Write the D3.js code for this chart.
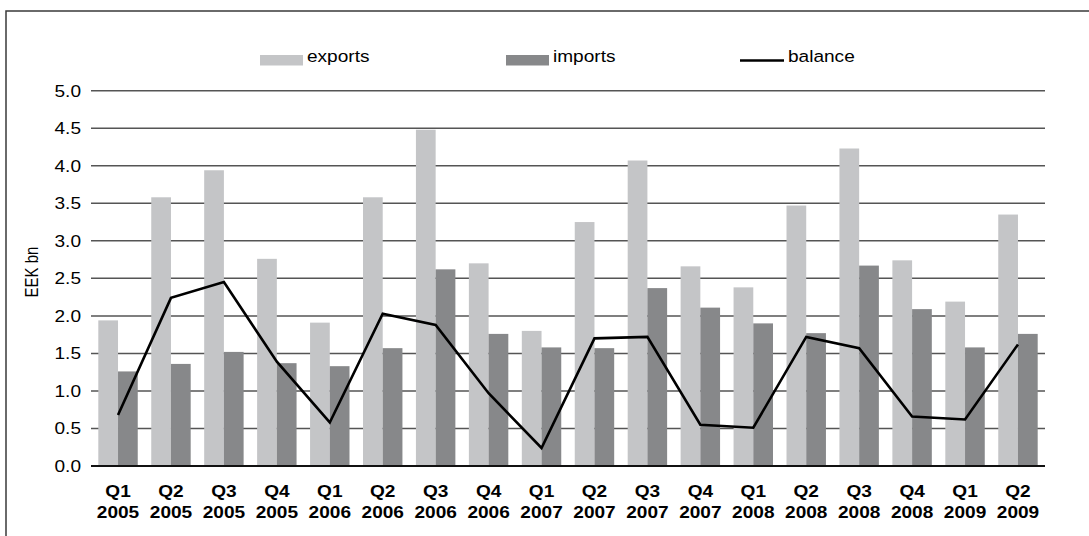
<!DOCTYPE html>
<html>
<head>
<meta charset="utf-8">
<script src="https://cdn.jsdelivr.net/npm/d3@7"></script>
<style>
  html, body { margin: 0; padding: 0; background: #fff; }
  svg { display: block; }
  text { font-family: "Liberation Sans", Arial, Helvetica, sans-serif; fill: #000; }
</style>
</head>
<body>
<svg id="chart" width="1089" height="536"></svg>
<script>
// quarters shown on the x axis (two lines each)
var quarters = ['Q1','Q2','Q3','Q4','Q1','Q2','Q3','Q4','Q1','Q2','Q3','Q4','Q1','Q2','Q3','Q4','Q1','Q2'];
var years = ['2005','2005','2005','2005','2006','2006','2006','2006','2007','2007','2007','2007','2008','2008','2008','2008','2009','2009'];

// EEK bn
var exportsData = [1.94, 3.58, 3.94, 2.76, 1.91, 3.58, 4.48, 2.70, 1.80, 3.25, 4.07, 2.66, 2.38, 3.47, 4.23, 2.74, 2.19, 3.35];
var importsData = [1.26, 1.36, 1.52, 1.37, 1.33, 1.57, 2.62, 1.76, 1.58, 1.57, 2.37, 2.11, 1.90, 1.77, 2.67, 2.09, 1.58, 1.76];
var balanceData = [0.68, 2.24, 2.45, 1.39, 0.58, 2.03, 1.88, 0.97, 0.24, 1.70, 1.72, 0.55, 0.51, 1.72, 1.57, 0.66, 0.62, 1.62];

var yTicks = [0, 0.5, 1, 1.5, 2, 2.5, 3, 3.5, 4, 4.5, 5];
var seriesNames = ['exports', 'imports'];

var colExp = '#c4c5c7', colImp = '#87888a';
var sx = 1.17; // text is a bit wide in the original

var svg = d3.select('#chart');
var categories = quarters.map(function(q, i){ return q + ' ' + years[i]; });

var left = 91, right = 1045;

var x = d3.scaleBand()
	.domain(categories)
	.range([left, right])
	.paddingInner(0.255)
	.paddingOuter(0.138);

var xs = d3.scaleBand()
	.domain(seriesNames)
	.range([0, x.bandwidth()]);

var y = d3.scaleLinear()
	.domain([0, 5])
	.range([466, 90.7]);

// frame (runs off the right and bottom edge)
svg.append('rect')
	.attr('x', 6).attr('y', 11)
	.attr('width', 1200).attr('height', 700)
	.attr('fill', 'none')
	.attr('stroke', '#3a3a3a')
	.attr('stroke-width', 1.5);

// gridlines
svg.append('g')
	.selectAll('line')
	.data(yTicks.slice(1))
	.enter()
	.append('line')
	.attr('x1', left).attr('x2', right)
	.attr('y1', function(d){ return y(d); })
	.attr('y2', function(d){ return y(d); })
	.attr('stroke', '#555')
	.attr('stroke-width', 1.5);

// bars
var groups = svg.append('g')
	.selectAll('g')
	.data(categories)
	.enter()
	.append('g')
	.attr('transform', function(d){ return 'translate(' + x(d) + ',0)'; });

groups.append('rect')
	.attr('x', xs('exports'))
	.attr('width', xs.bandwidth())
	.attr('y', function(d, i){ return y(exportsData[i]); })
	.attr('height', function(d, i){ return y(0) - y(exportsData[i]); })
	.attr('fill', colExp);

groups.append('rect')
	.attr('x', xs('imports'))
	.attr('width', xs.bandwidth())
	.attr('y', function(d, i){ return y(importsData[i]); })
	.attr('height', function(d, i){ return y(0) - y(importsData[i]); })
	.attr('fill', colImp);

// baseline
svg.append('line')
	.attr('x1', left).attr('x2', right)
	.attr('y1', y(0)).attr('y2', y(0))
	.attr('stroke', '#111')
	.attr('stroke-width', 1.8);

// balance line
var line = d3.line()
	.x(function(d, i){ return x(categories[i]) + x.bandwidth() / 2; })
	.y(function(d){ return y(d); });

svg.append('path')
	.datum(balanceData)
	.attr('d', line)
	.attr('fill', 'none')
	.attr('stroke', '#000')
	.attr('stroke-width', 2.6)
	.attr('stroke-linejoin', 'miter');

// y tick labels
svg.append('g')
	.selectAll('text')
	.data(yTicks)
	.enter()
	.append('text')
	.attr('transform', function(d){ return 'translate(81,' + (y(d) + 5.8) + ') scale(' + sx + ',1)'; })
	.attr('text-anchor', 'end')
	.style('font-size', '16.3px')
	.text(function(d){ return d3.format('.1f')(d); });

// y title
svg.append('text')
	.attr('transform', 'translate(38,272) scale(' + sx + ',1) rotate(-90)')
	.attr('text-anchor', 'middle')
	.style('font-size', '15px')
	.text('EEK bn');

// x labels
var xl = svg.append('g')
	.selectAll('g')
	.data(categories)
	.enter()
	.append('g')
	.attr('transform', function(d){ return 'translate(' + (x(d) + x.bandwidth() / 2) + ',0)'; });

xl.append('text')
	.attr('transform', 'translate(0,496.5) scale(' + sx + ',1)')
	.attr('text-anchor', 'middle')
	.style('font-size', '16.3px')
	.style('font-weight', 'bold')
	.text(function(d, i){ return quarters[i]; });

xl.append('text')
	.attr('transform', 'translate(0,518) scale(' + sx + ',1)')
	.attr('text-anchor', 'middle')
	.style('font-size', '16.3px')
	.style('font-weight', 'bold')
	.text(function(d, i){ return years[i]; });

// legend
var legend = [
	{name: 'exports', type: 'rect', color: colExp, x: 260},
	{name: 'imports', type: 'rect', color: colImp, x: 506},
	{name: 'balance', type: 'line', color: '#000', x: 740}
];

var lg = svg.append('g')
	.selectAll('g')
	.data(legend)
	.enter()
	.append('g')
	.attr('transform', function(d){ return 'translate(' + d.x + ',0)'; });

lg.filter(function(d){ return d.type == 'rect'; })
	.append('rect')
	.attr('x', 0).attr('y', 55)
	.attr('width', 43).attr('height', 10.5)
	.attr('fill', function(d){ return d.color; });

lg.filter(function(d){ return d.type == 'line'; })
	.append('line')
	.attr('x1', 0).attr('x2', 44)
	.attr('y1', 60.5).attr('y2', 60.5)
	.attr('stroke', '#000')
	.attr('stroke-width', 2.6);

lg.append('text')
	.attr('transform', function(d){ return 'translate(' + (d.type == 'line' ? 48 : 47) + ',62) scale(' + sx + ',1)'; })
	.style('font-size', '16.3px')
	.text(function(d){ return d.name; });
</script>
</body>
</html>
